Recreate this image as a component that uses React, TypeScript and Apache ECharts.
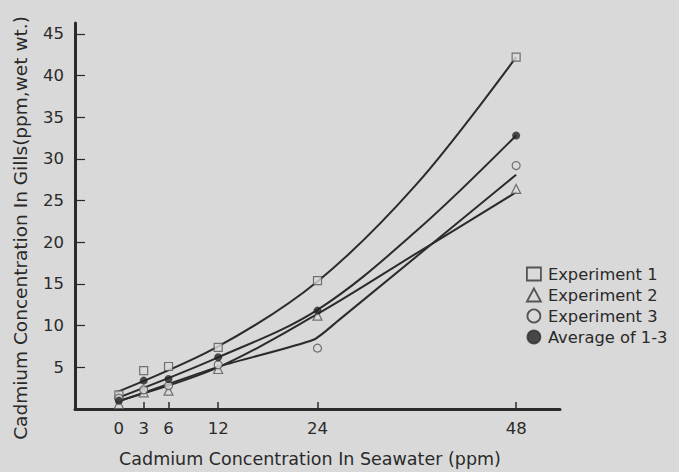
import React, { useEffect, useRef } from "react";
import * as echarts from "echarts";

const seriesNames = ["Experiment 1", "Experiment 2", "Experiment 3", "Average of 1-3"];

// Measured points [seawater ppm, gills ppm]
const exp1Points = [[0, 1.7], [3, 4.6], [6, 5.1], [12, 7.4], [24, 15.4], [48, 42.2]];
const exp2Points = [[0, 0.6], [3, 2.0], [6, 2.2], [12, 4.8], [24, 11.2], [48, 26.4]];
const exp3Points = [[0, 1.3], [3, 2.3], [6, 2.8], [12, 5.3], [24, 7.3], [48, 29.2]];
const avgPoints = [[0, 1.0], [3, 3.4], [6, 3.6], [12, 6.2], [24, 11.8], [48, 32.8]];

// Hand-drawn fitted curves
const exp1Curve = [[-0.3, 2.0], [12, 7.5], [24, 15.3], [36, 27.0], [48, 42.2]];
const exp2Curve = [[-0.3, 0.9], [12, 5.0], [24, 11.4], [36, 18.7], [48, 26.0]];
const exp3Curve = [[-0.3, 0.8], [12.5, 5.2], [23.5, 8.3], [26.5, 10.6], [48, 28.1]];
const avgCurve = [[-0.5, 1.2], [12, 6.2], [24, 11.9], [36, 21.4], [48, 32.8]];

const xLabelValues = [0, 3, 6, 12, 24, 48];
const xTickValues = [3, 6, 12, 24, 48];
const yTickValues = [5, 10, 15, 20, 25, 30, 35, 40, 45];

const xTitle = "Cadmium Concentration In Seawater (ppm)";
const yTitle = "Cadmium Concentration In Gills(ppm,wet wt.)";

const BG = "#d9d9d9";
const INK = "#2a2a2a";
const FONT = "DejaVu Sans";

export default function App() {
  const ref = useRef<HTMLDivElement>(null);

  useEffect(() => {
    if (!ref.current) return;
    const chart = echarts.init(ref.current, null, { renderer: "svg" });

    const markerSeries = (name: string, data: number[][], symbol: string, filled: boolean) => ({
      type: "scatter",
      name,
      data,
      symbol,
      symbolSize: symbol === "triangle" ? 9 : 8,
      z: 5,
      itemStyle: {
        color: filled ? "#222" : BG,
        borderColor: filled ? "#222" : "#555",
        borderWidth: filled ? 0 : 1.2,
      },
    });

    const curveSeries = (name: string, data: number[][], smooth: number) => ({
      type: "line",
      name,
      data,
      smooth,
      showSymbol: false,
      symbol: "none",
      z: 3,
      lineStyle: { color: "#2b2b2b", width: 2 },
      silent: true,
    });

    chart.setOption({
      animation: false,
      backgroundColor: BG,
      textStyle: { fontFamily: FONT },
      grid: { left: 75, top: 23, width: 485, height: 386 },
      xAxis: {
        type: "value",
        min: -5.3,
        max: 53.3,
        splitLine: { show: false },
        axisLine: { show: true, onZero: false, lineStyle: { color: INK, width: 3 } },
        axisTick: { show: true, inside: true, length: 7, customValues: xTickValues, lineStyle: { color: INK, width: 1.5 } },
        axisLabel: { customValues: xLabelValues, fontSize: 16.5, color: INK, fontFamily: FONT, margin: 11 },
      },
      yAxis: {
        type: "value",
        min: 0,
        max: 46.3,
        splitLine: { show: false },
        axisLine: { show: true, onZero: false, lineStyle: { color: INK, width: 3 } },
        axisTick: { show: true, inside: true, length: 10, customValues: yTickValues, lineStyle: { color: INK, width: 1.2 } },
        axisLabel: { customValues: yTickValues, fontSize: 16.5, color: INK, fontFamily: FONT, margin: 11 },
      },
      legend: {
        orient: "vertical",
        left: 521,
        top: 261,
        itemWidth: 14,
        itemHeight: 13,
        itemGap: 5,
        data: seriesNames,
        itemStyle: { borderColor: "#333", borderWidth: 1.8 },
        textStyle: { fontSize: 16.3, fontFamily: FONT, color: INK, lineHeight: 16, padding: [0, 0, 0, 2] },
      },
      graphic: [
        {
          type: "text",
          x: 20,
          y: 228,
          rotation: Math.PI / 2,
          style: { text: yTitle, fontSize: 18.5, fontFamily: FONT, fill: INK, align: "center", verticalAlign: "middle" },
        },
        {
          type: "text",
          x: 310,
          y: 459,
          style: { text: xTitle, fontSize: 17.5, fontFamily: FONT, fill: INK, align: "center", verticalAlign: "middle" },
        },
      ],
      series: [
        curveSeries("Curve 1", exp1Curve, 0.35),
        curveSeries("Curve 2", exp2Curve, 0.35),
        curveSeries("Curve 3", exp3Curve, 0.2),
        curveSeries("Curve Avg", avgCurve, 0.35),
        markerSeries(seriesNames[0], exp1Points, "rect", false),
        markerSeries(seriesNames[1], exp2Points, "triangle", false),
        markerSeries(seriesNames[2], exp3Points, "circle", false),
        markerSeries(seriesNames[3], avgPoints, "circle", true),
      ],
    });

    return () => chart.dispose();
  }, []);

  return (
    <div
      ref={ref}
      style={{ position: "fixed", left: 0, top: 0, width: 679, height: 472, background: BG }}
    />
  );
}
